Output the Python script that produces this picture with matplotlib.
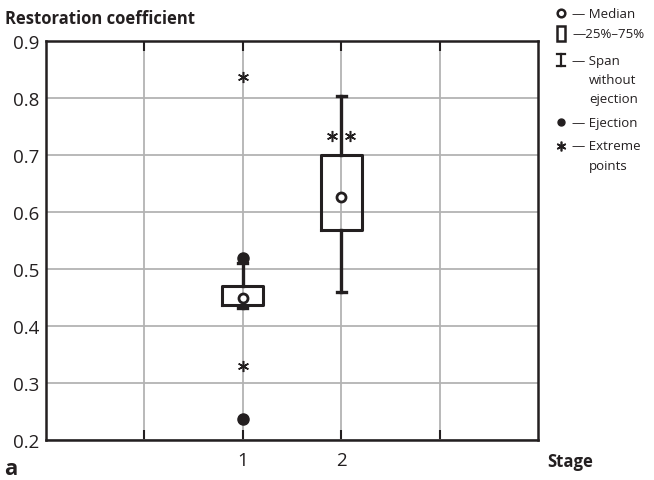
import numpy as np
import matplotlib
matplotlib.use("Agg")
import matplotlib.pyplot as plt

plt.rcParams['font.family'] = ['Open Sans', 'DejaVu Sans']

# data
stages = [1, 2]
q1 = [0.437, 0.569]
q3 = [0.470, 0.700]
medians = [0.449, 0.626]
whis_lo = [0.431, 0.460]
whis_hi = [0.510, 0.803]
ejection_x = [1, 1]
ejection_y = [0.520, 0.237]
extreme_x = [1, 1, 1.91, 2.09]
extreme_y = [0.837, 0.329, 0.733, 0.733]

dark = '#231f20'
grid_c = '#b3b3b3'

fig = plt.figure(figsize=(6.54, 4.81), dpi=100)
W, H = 654, 481
ax = fig.add_axes([46 / W, 1 - 441 / H, 492 / W, 399 / H])

stats = []
for i in range(len(stages)):
    stats.append(dict(med=medians[i], q1=q1[i], q3=q3[i],
                      whislo=whis_lo[i], whishi=whis_hi[i], fliers=[]))

ax.bxp(stats, positions=stages, widths=0.42, capwidths=0.09, showfliers=False,
       boxprops=dict(color=dark, linewidth=2.2),
       whiskerprops=dict(color=dark, linewidth=2.4),
       capprops=dict(color=dark, linewidth=2.4),
       medianprops=dict(linestyle='none'), zorder=3)

ax.plot(stages, medians, 'o', ms=6.5, mfc='white', mec=dark, mew=2, zorder=4, ls='none')
ax.plot(ejection_x, ejection_y, 'o', ms=8, color=dark, zorder=4, ls='none')
ax.plot(extreme_x, extreme_y, marker=(6, 2, 0), ms=8, mew=1.1, color=dark, ls='none', zorder=4)

ax.set_xlim(-1, 4)
ax.set_ylim(0.2, 0.9)
ax.set_xticks([0, 1, 2, 3])
ax.set_xticklabels(['', '1', '2', ''])
ax.set_yticks(np.arange(0.2, 0.91, 0.1))
ax.set_yticklabels(['0.2', '0.3', '0.4', '0.5', '0.6', '0.7', '0.8', '0.9'])
ax.grid(True, color=grid_c, linewidth=1.3)
ax.set_axisbelow(True)
ax.tick_params(direction='in', length=7, width=1.5, color=dark, labelsize=13.5,
               top=True, right=False, left=False, pad=8, labelcolor=dark)
ax.tick_params(axis='y', pad=5)
for s in ax.spines.values():
    s.set_color(dark)
    s.set_linewidth(1.8)

fig.text(5 / W, 1 - 19 / H, 'Restoration coefficient', fontsize=12, fontweight='bold',
         color=dark, va='center', ha='left')
fig.text(547 / W, 1 - 462 / H, 'Stage', fontsize=12, fontweight='bold',
         color=dark, va='center', ha='left')
fig.text(4 / W, 1 - 480 / H, 'a', fontsize=16, fontweight='bold',
         color=dark, va='bottom', ha='left')

# legend drawn in pixel coordinates
lg = fig.add_axes([0, 0, 1, 1], facecolor='none')
lg.set_xlim(0, W)
lg.set_ylim(H, 0)
lg.axis('off')
sx = 561
lg.plot([sx], [14], 'o', ms=5.5, mfc='white', mec=dark, mew=1.8)
lg.add_patch(plt.Rectangle((sx - 4, 27), 8, 15, fill=False, ec=dark, lw=1.8))
lg.plot([sx, sx], [55, 67], color=dark, lw=1.6)
lg.plot([sx - 4, sx + 4], [55, 55], color=dark, lw=1.6)
lg.plot([sx - 4, sx + 4], [67, 67], color=dark, lw=1.6)
lg.plot([sx], [123], 'o', ms=5, color=dark)
lg.plot([sx], [147], marker=(6, 2, 0), ms=7, mew=1.2, color=dark)
fs = 9.5
rows = [(14, '— Median'), (34, '—25%–75%'), (61, '— Span'), (123, '— Ejection'),
        (147, '— Extreme')]
for y, t in rows:
    lg.text(572, y, t, fontsize=fs, color=dark, va='center', ha='left')
for y, t in [(81, 'without'), (100, 'ejection'), (167, 'points')]:
    lg.text(589, y, t, fontsize=fs, color=dark, va='center', ha='left')

fig.savefig('out.png', dpi=100)
